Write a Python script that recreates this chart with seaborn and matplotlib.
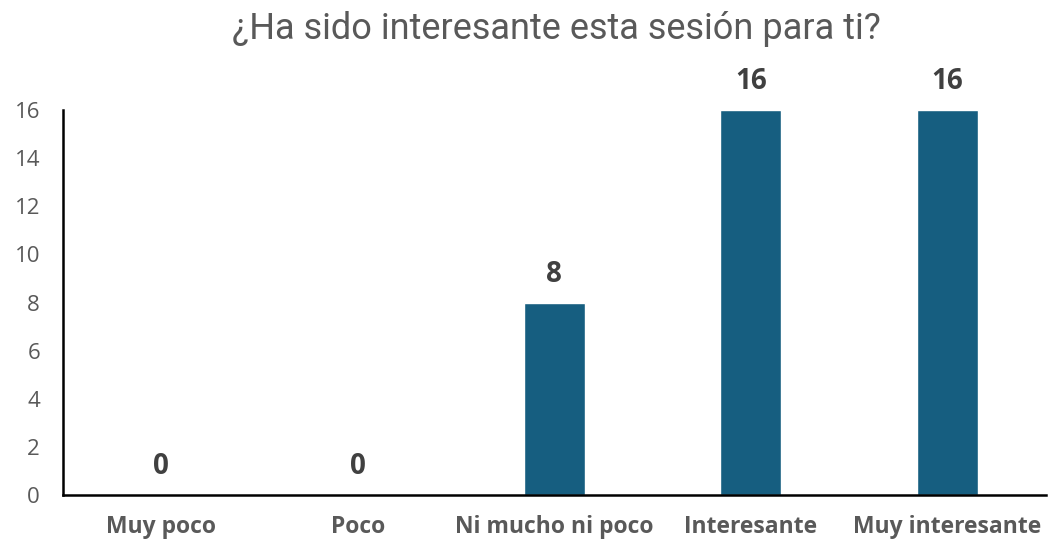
import matplotlib
matplotlib.use("Agg")
import matplotlib.pyplot as plt
import seaborn as sns
import pandas as pd

categories = ["Muy poco", "Poco", "Ni mucho ni poco", "Interesante", "Muy interesante"]
counts = [0, 0, 8, 16, 16]
yticks = [0, 2, 4, 6, 8, 10, 12, 14, 16]

sns.set_style("white")
plt.rcParams["font.family"] = ["Open Sans", "DejaVu Sans"]

df = pd.DataFrame({"respuesta": categories, "n": counts})

fig = plt.figure(figsize=(10.49, 5.45), dpi=100)
ax = fig.add_axes([0.060, 0.0917, 0.9367, 0.7063])
sns.barplot(data=df, x="respuesta", y="n", color="#165E80", width=0.31,
            saturation=1, ax=ax)

ax.set_ylim(0, 16)
ax.set_xlim(-0.5, 4.5)
ax.set_yticks(yticks)
ax.set_xlabel("")
ax.set_ylabel("")
ax.tick_params(axis="both", length=0)
ax.tick_params(axis="y", labelsize=16, labelcolor="#595959", pad=16.5)
ax.tick_params(axis="x", labelsize=16.5, labelcolor="#595959", pad=14.5)
for lab in ax.get_xticklabels():
    lab.set_fontweight("bold")

for s in ["top", "right"]:
    ax.spines[s].set_visible(False)
for s in ["left", "bottom"]:
    ax.spines[s].set_color("black")
    ax.spines[s].set_linewidth(1.8)

for i, v in enumerate(counts):
    ax.annotate(str(v), (i, v), xytext=(0, 10), textcoords="offset points",
                ha="center", va="bottom", fontsize=20, fontweight="bold",
                color="#404040", annotation_clip=False)

fig.text(0.530, 0.946, "¿Ha sido interesante esta sesión para ti?", ha="center",
         va="center", fontsize=26, color="#595959", family=["Roboto", "DejaVu Sans"])

fig.savefig("out.png", dpi=100)
